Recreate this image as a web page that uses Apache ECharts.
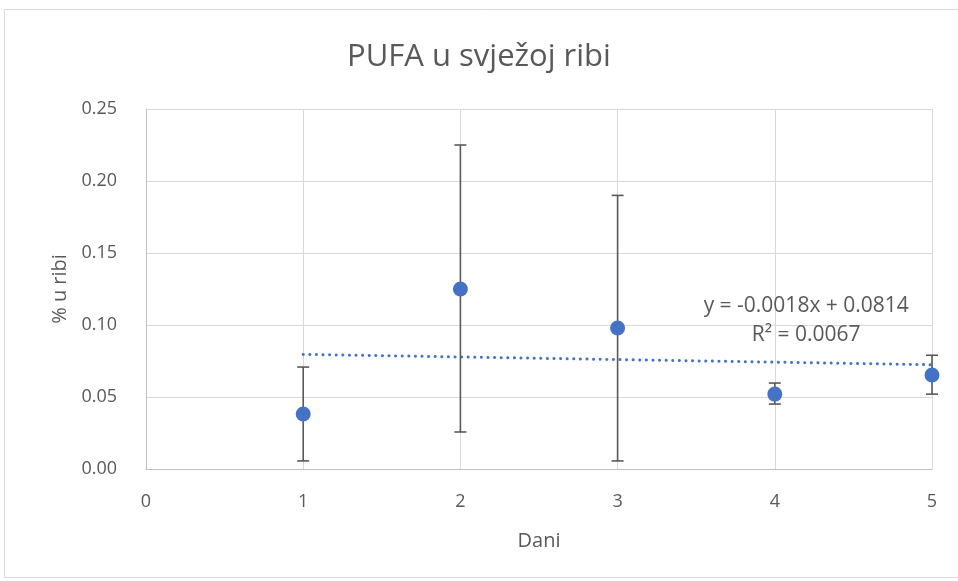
<!DOCTYPE html>
<html><head><meta charset="utf-8">
<script src="https://cdn.jsdelivr.net/npm/echarts@6/dist/echarts.min.js"></script>
<style>html,body{margin:0;padding:0;background:#fff}#c{width:958px;height:581px}</style>
</head><body><div id="c"></div>
<script>
const days = [1, 2, 3, 4, 5];
const means = [0.0382, 0.125, 0.0979, 0.052, 0.0653];
const errLow = [0.0056, 0.0257, 0.0056, 0.0451, 0.052];
const errHigh = [0.0708, 0.225, 0.190, 0.0597, 0.079];
const trendX = [1, 5];
const trendY = [0.0796, 0.0724];
const xTicks = [0, 1, 2, 3, 4, 5];
const yTicks = [0, 0.05, 0.10, 0.15, 0.20, 0.25];
const eqLines = ['y = -0.0018x + 0.0814', 'R² = 0.0067'];

const FONT = '"Open Sans", "Noto Sans", sans-serif';
const TXT = '#595959';
const chart = echarts.init(document.getElementById('c'));
const option = {
  animation: false,
  title: {
    text: 'PUFA u svježoj ribi', left: 'center', top: 37,
    textStyle: { fontFamily: FONT, fontSize: 31, fontWeight: 'normal', color: TXT }
  },
  grid: { left: 146, right: 26, top: 109, bottom: 112 },
  xAxis: {
    type: 'value', min: xTicks[0], max: xTicks[xTicks.length - 1], interval: 1,
    name: 'Dani', nameLocation: 'middle', nameGap: 62,
    nameTextStyle: { fontFamily: FONT, fontSize: 20, color: TXT },
    axisLine: { show: true, lineStyle: { color: '#bfbfbf' } },
    axisTick: { show: false },
    axisLabel: { fontFamily: FONT, fontSize: 18, color: TXT, margin: 24 },
    splitLine: { show: true, lineStyle: { color: '#d9d9d9' } }
  },
  yAxis: {
    type: 'value', min: yTicks[0], max: yTicks[yTicks.length - 1], interval: 0.05,
    name: '% u ribi', nameLocation: 'middle', nameGap: 72,
    nameTextStyle: { fontFamily: FONT, fontSize: 20, color: TXT },
    axisLine: { show: true, lineStyle: { color: '#bfbfbf' } },
    axisTick: { show: false },
    axisLabel: { fontFamily: FONT, fontSize: 18, color: TXT, margin: 29, formatter: v => v.toFixed(2) },
    splitLine: { show: true, lineStyle: { color: '#d9d9d9' } }
  },
  series: [
    {
      type: 'line', data: trendX.map((x, i) => [x, trendY[i]]), symbol: 'none',
      lineStyle: { color: '#4472C4', width: 3, type: [0.1, 6.5], cap: 'round' }, z: 2
    },
    {
      type: 'custom', z: 3,
      data: days.map((d, i) => [d, errLow[i], errHigh[i]]),
      renderItem: function (params, api) {
        const x = api.value(0);
        const lo = api.coord([x, api.value(1)]);
        const hi = api.coord([x, api.value(2)]);
        const w = 6;
        const st = { stroke: '#595959', lineWidth: 1.6, fill: 'none' };
        return { type: 'group', children: [
          { type: 'line', shape: { x1: lo[0], y1: lo[1], x2: hi[0], y2: hi[1] }, style: st },
          { type: 'line', shape: { x1: lo[0] - w, y1: lo[1], x2: lo[0] + w, y2: lo[1] }, style: st },
          { type: 'line', shape: { x1: hi[0] - w, y1: hi[1], x2: hi[0] + w, y2: hi[1] }, style: st }
        ]};
      }
    },
    {
      type: 'scatter', data: days.map((d, i) => [d, means[i]]), symbolSize: 15,
      itemStyle: { color: '#4472C4', opacity: 1 }, z: 4
    }
  ]
};
chart.setOption(option);
const p1 = chart.convertToPixel({ gridIndex: 0 }, [4.2, 0.1132]);
const p2 = chart.convertToPixel({ gridIndex: 0 }, [4.2, 0.0931]);
chart.setOption({
  graphic: [
    { type: 'rect', shape: { x: 4.5, y: 9.5, width: 960, height: 568 }, style: { fill: 'none', stroke: '#d9d9d9', lineWidth: 1 }, silent: true },
    { type: 'text', x: p1[0], y: p1[1], z: 10, style: { text: eqLines[0], font: '21px ' + FONT, fill: TXT, align: 'center', verticalAlign: 'middle' } },
    { type: 'text', x: p2[0], y: p2[1], z: 10, style: { text: eqLines[1], font: '21px ' + FONT, fill: TXT, align: 'center', verticalAlign: 'middle' } }
  ]
});
</script></body></html>
